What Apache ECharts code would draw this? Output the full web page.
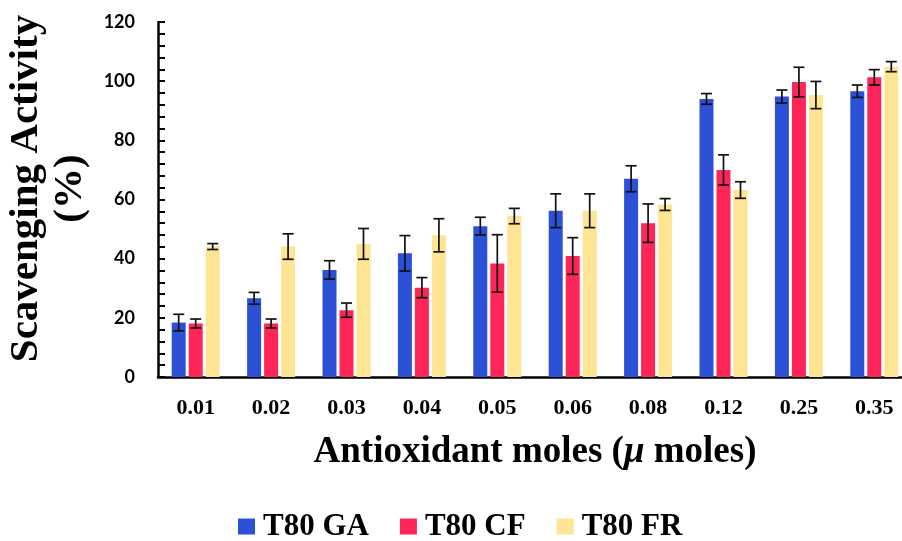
<!DOCTYPE html>
<html><head><meta charset="utf-8">
<script src="https://cdn.jsdelivr.net/npm/echarts@6/dist/echarts.min.js"></script>
<style>html,body{margin:0;padding:0;background:#fff}#c{width:902px;height:541px}</style>
</head><body><div id="c"></div>
<script>
const categories = ['0.01','0.02','0.03','0.04','0.05','0.06','0.08','0.12','0.25','0.35'];
const seriesNames = ['T80 GA','T80 CF','T80 FR'];
const gaValues = [18.4, 26.6, 36.2, 41.8, 51.0, 56.2, 67.0, 94.0, 94.8, 96.6];
const cfValues = [18.1, 18.1, 22.6, 30.2, 38.4, 40.9, 52.0, 70.0, 99.7, 101.3];
const frValues = [44.1, 44.1, 45.0, 47.9, 54.4, 56.2, 58.3, 63.2, 95.3, 104.9];
const gaErrors = [2.8, 2.0, 3.1, 6.0, 3.0, 5.7, 4.4, 1.8, 2.2, 2.1];
const cfErrors = [1.5, 1.5, 2.4, 3.4, 9.7, 6.2, 6.5, 5.1, 5.0, 2.6];
const frErrors = [1.0, 4.3, 5.2, 5.6, 2.6, 5.7, 2.0, 2.8, 4.6, 1.7];
const yTicks = {min: 0, max: 120, interval: 20};

const colors = ['#2c50d6', '#fe2659', '#fee593'];
const allValues = [gaValues, cfValues, frValues];
const allErrors = [gaErrors, cfErrors, frErrors];
const BAR_W = 14, BAR_GAP = 3;

const chart = echarts.init(document.getElementById('c'));
const series = [];
allValues.forEach((vals, i) => {
  series.push({
    name: seriesNames[i], type: 'bar', data: vals, barWidth: BAR_W, barGap: (BAR_GAP / BAR_W * 100) + '%',
    itemStyle: {color: colors[i]}, z: 2
  });
});
allValues.forEach((vals, i) => {
  const off = (i - 1) * (BAR_W + BAR_GAP);
  series.push({
    type: 'custom', z: 5, silent: true,
    data: vals.map((v, k) => [k, v - allErrors[i][k], v + allErrors[i][k]]),
    renderItem: function (params, api) {
      const lo = api.coord([api.value(0), api.value(1)]);
      const hi = api.coord([api.value(0), api.value(2)]);
      const x = lo[0] + off, cw = 5.5;
      const st = {stroke: '#111', lineWidth: 1.7};
      return {type: 'group', children: [
        {type: 'line', shape: {x1: x, y1: lo[1], x2: x, y2: hi[1]}, style: st},
        {type: 'line', shape: {x1: x - cw, y1: lo[1], x2: x + cw, y2: lo[1]}, style: st},
        {type: 'line', shape: {x1: x - cw, y1: hi[1], x2: x + cw, y2: hi[1]}, style: st}
      ]};
    }
  });
});

chart.setOption({
  animation: false,
  backgroundColor: '#fff',
  grid: {left: 158, width: 754, top: 22, bottom: 164, containLabel: false, outerBoundsMode: 'none'},
  legend: {
    data: seriesNames, left: 233, top: 506, itemWidth: 17, itemHeight: 16, itemGap: 31,
    icon: 'rect',
    textStyle: {fontFamily: 'Liberation Serif', fontWeight: 'bold', fontSize: 31, color: '#000', padding: [0,0,0,3]}
  },
  xAxis: {
    type: 'category', data: categories,
    axisLine: {lineStyle: {color: '#000', width: 2.5}},
    axisTick: {show: false},
    axisLabel: {margin: 20, fontFamily: 'Liberation Serif', fontWeight: 'bold', fontSize: 22, color: '#000'},
    name: 'Antioxidant moles ({mu|μ} moles)', nameLocation: 'middle', nameGap: 57,
    nameTextStyle: {fontFamily: 'Liberation Serif', fontWeight: 'bold', fontSize: 37, color: '#000', padding: [0,0,0,0],
      rich: {mu: {fontFamily: 'Liberation Serif', fontStyle: 'italic', fontSize: 37, color: '#000'}}}
  },
  yAxis: {
    type: 'value', min: yTicks.min, max: yTicks.max, interval: yTicks.interval,
    axisLine: {show: true, lineStyle: {color: '#000', width: 2.5}},
    axisTick: {show: true, inside: true, length: 7, lineStyle: {color: '#000', width: 2}},
    minorTick: {show: true, splitNumber: 5, length: 7, lineStyle: {color: '#000', width: 2}},
    splitLine: {show: false},
    axisLabel: {margin: 23, fontFamily: 'Lato', fontWeight: 'bold', fontSize: 18, color: '#000'},
    name: 'Scavenging Activity\n(%)', nameLocation: 'middle', nameGap: 60, nameRotate: 90,
    nameTextStyle: {fontFamily: 'Liberation Serif', fontWeight: 'bold', fontSize: 41, color: '#000', lineHeight: 44, padding: [0,0,0,22]}
  },
  series: series
});
</script></body></html>
